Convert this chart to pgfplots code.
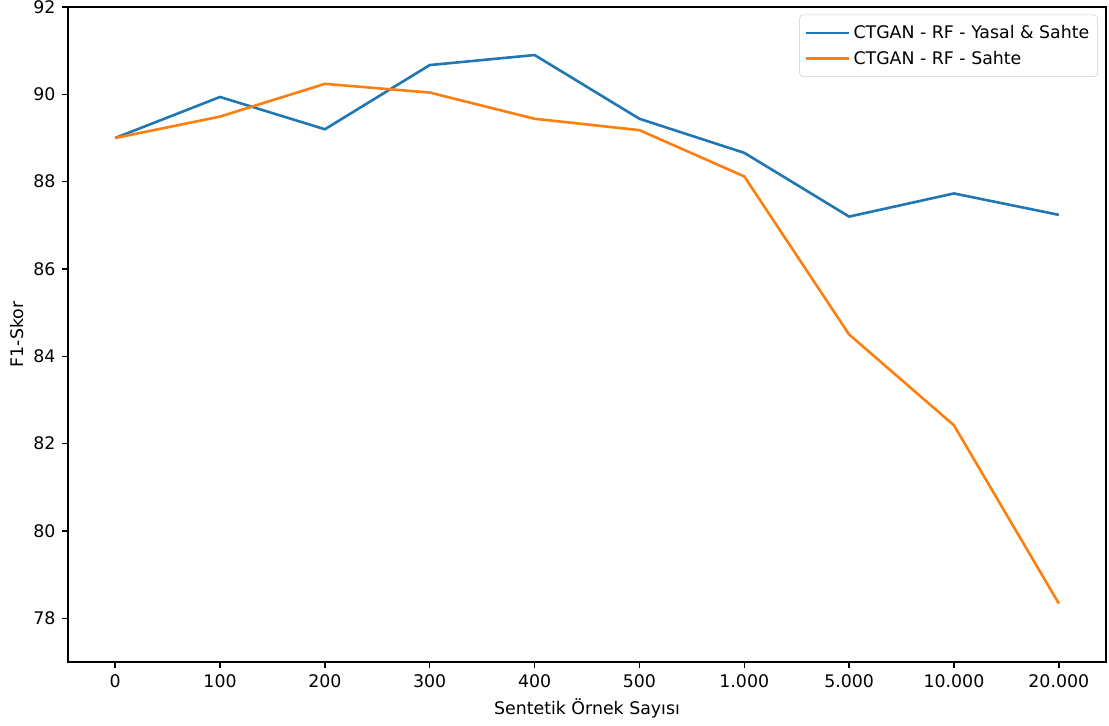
\documentclass[border=0pt]{standalone}
\usepackage{pgfplots}
\pgfplotsset{compat=1.18}
\usepackage{fontspec}
\setmainfont{DejaVu Sans}
\definecolor{c0}{HTML}{1F77B4}
\definecolor{c1}{HTML}{FF7F0E}
\begin{document}
\begin{tikzpicture}
\path[use as bounding box] (-48.96bp,-46.08bp) rectangle (749.52bp,476.64bp);
\begin{axis}[
  at={(0,0)}, anchor=south west,
  scale only axis,
  width=747.36bp, height=471.6bp,
  xmin=-0.45, xmax=9.45, ymin=77, ymax=92,
  xtick={0,...,9},
  xticklabels={0,100,200,300,400,500,1.000,5.000,10.000,20.000},
  ytick={78,80,82,84,86,88,90,92},
  /pgf/number format/assume math mode=true,
  tick align=outside,
  major tick length=4.4bp,
  tick style={black, line width=1bp},
  axis line style={line width=1bp},
  xtick pos=bottom, ytick pos=left,
  tick label style={font=\fontsize{12.5bp}{15bp}\selectfont},
  xticklabel style={inner sep=0pt, anchor=north, yshift=-4.5bp},
  yticklabel style={inner sep=0pt, anchor=east, xshift=-4.5bp},
  xlabel={Sentetik Örnek Sayısı},
  ylabel={F1-Skor},
  every axis x label/.style={at={(axis description cs:0.5,0)}, anchor=center, yshift=-33.5bp, font=\fontsize{12.5bp}{15bp}\selectfont},
  every axis y label/.style={at={(axis description cs:-0.0491,0.5)}, anchor=center, rotate=90, font=\fontsize{12.5bp}{15bp}\selectfont},
  legend style={at={(1,1)}, anchor=north east, xshift=-5.8bp, yshift=-5.5bp,
    draw=black!20, rounded corners=2.5bp, fill=white,
    font=\fontsize{12.5bp}{15bp}\selectfont,
    row sep=3.5bp, inner xsep=4bp, inner ysep=5.5bp},
  legend cell align=left,
  legend image code/.code={\path (0bp,0bp) -- (31bp,0bp); \draw[#1] (0bp,0bp) -- (26.5bp,0bp);},
]
\addplot[c0, line width=1.875bp] coordinates {
(0,89.0) (1,89.94) (2,89.20) (3,90.67) (4,90.90) (5,89.44) (6,88.66) (7,87.20) (8,87.73) (9,87.24)
};
\addlegendentry{CTGAN - RF - Yasal \& Sahte}
\addplot[c1, line width=1.875bp] coordinates {
(0,89.0) (1,89.49) (2,90.24) (3,90.04) (4,89.44) (5,89.18) (6,88.12) (7,84.50) (8,82.42) (9,78.34)
};
\addlegendentry{CTGAN - RF - Sahte}
\end{axis}
\end{tikzpicture}
\end{document}
